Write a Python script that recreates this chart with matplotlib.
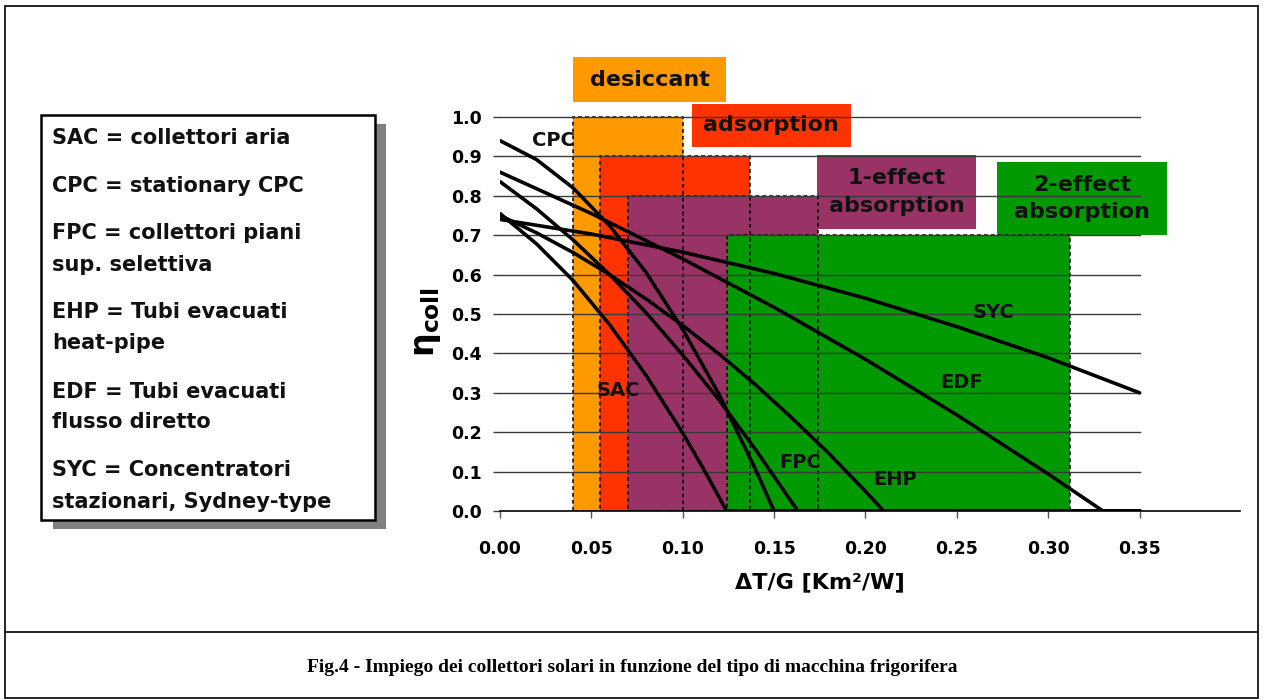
import matplotlib
matplotlib.use("Agg")
import matplotlib.pyplot as plt
from matplotlib.patches import Rectangle

plt.rcParams['font.family'] = ['DejaVu Sans']
plt.rcParams['font.weight'] = 'bold'
plt.rcParams['mathtext.fontset'] = 'dejavusans'

# operating ranges of the chillers (x range, max efficiency)
BAR_NAMES = ["desiccant", "adsorption", "1-effect\nabsorption", "2-effect\nabsorption"]
BAR_X0 = [0.040, 0.055, 0.070, 0.124]
BAR_X1 = [0.100, 0.137, 0.174, 0.312]
BAR_TOP = [1.0, 0.9, 0.8, 0.7]
BAR_COLORS = ["#FF9900", "#FF3300", "#993366", "#009900"]

# collector efficiency curves
CPC_X = [0.0, 0.02, 0.04, 0.06, 0.08, 0.10, 0.12, 0.14, 0.15, 0.35]
CPC_Y = [0.94, 0.892, 0.820, 0.724, 0.605, 0.461, 0.295, 0.104, 0.0, 0.0]
SAC_X = [0.0, 0.02, 0.04, 0.06, 0.08, 0.10, 0.112, 0.124, 0.35]
SAC_Y = [0.755, 0.678, 0.585, 0.473, 0.344, 0.198, 0.102, 0.0, 0.0]
FPC_X = [0.0, 0.02, 0.04, 0.06, 0.08, 0.10, 0.12, 0.14, 0.163, 0.35]
FPC_Y = [0.836, 0.767, 0.688, 0.600, 0.503, 0.396, 0.281, 0.155, 0.0, 0.0]
EHP_X = [0.0, 0.02, 0.04, 0.06, 0.08, 0.10, 0.12, 0.14, 0.16, 0.18, 0.20, 0.21, 0.35]
EHP_Y = [0.75, 0.706, 0.656, 0.600, 0.538, 0.471, 0.398, 0.320, 0.235, 0.146, 0.050, 0.0, 0.0]
EDF_X = [0.0, 0.05, 0.10, 0.15, 0.20, 0.25, 0.30, 0.33, 0.35]
EDF_Y = [0.86, 0.755, 0.640, 0.517, 0.385, 0.244, 0.094, 0.0, 0.0]
SYC_X = [0.0, 0.05, 0.10, 0.15, 0.20, 0.25, 0.30, 0.35]
SYC_Y = [0.74, 0.703, 0.657, 0.603, 0.540, 0.468, 0.389, 0.30]

CURVE_LABELS = ["CPC", "SAC", "FPC", "EHP", "EDF", "SYC"]
LABEL_X = [0.029, 0.0646, 0.164, 0.216, 0.2525, 0.270]
LABEL_Y = [0.94, 0.305, 0.122, 0.079, 0.325, 0.505]

LEGEND_LINES = ["SAC = collettori aria", "CPC = stationary CPC",
                "FPC = collettori piani", "sup. selettiva",
                "EHP = Tubi evacuati", "heat-pipe",
                "EDF = Tubi evacuati", "flusso diretto",
                "SYC = Concentratori", "stazionari, Sydney-type"]
LEGEND_PY = [138, 186, 233, 265, 312, 343, 392, 422, 470, 502]

YTICKS = [0.0, 0.1, 0.2, 0.3, 0.4, 0.5, 0.6, 0.7, 0.8, 0.9, 1.0]
XTICKS = [0.0, 0.05, 0.10, 0.15, 0.20, 0.25, 0.30, 0.35]

W, H = 1264, 700
fig = plt.figure(figsize=(W / 100, H / 100), dpi=100)

# axes: x=0 at px 500, 0.405 at px 1240; y=0 at py 511, 394 px per unit
ax = fig.add_axes([500 / W, (H - 511) / H, 740 / W, 1.2 * 394 / H])
ax.set_xlim(0, 0.405)
ax.set_ylim(0, 1.2)

# chiller bars
for x0, x1, top, c in zip(BAR_X0, BAR_X1, BAR_TOP, BAR_COLORS):
    ax.add_patch(Rectangle((x0, 0), x1 - x0, top, facecolor=c, edgecolor="none", zorder=1))
for x0, x1, top in zip(BAR_X0, BAR_X1, BAR_TOP):
    ax.add_patch(Rectangle((x0, 0), x1 - x0, top, facecolor="none", edgecolor="black",
                           lw=1.1, ls=(0, (2.5, 2)), zorder=2))

# name boxes above bars
boxes = [(0.040, 1.038, 0.0838, 0.114), (0.105, 0.924, 0.087, 0.109),
         (0.1736, 0.7157, 0.0871, 0.188), (0.2722, 0.7005, 0.0931, 0.185)]
for (bx, by, bw, bh), name, c in zip(boxes, BAR_NAMES, BAR_COLORS):
    ax.add_patch(Rectangle((bx, by), bw, bh, facecolor=c, edgecolor="none", zorder=1.5,
                           clip_on=False))
    ax.text(bx + bw / 2, by + bh / 2, name, ha="center", va="center", fontsize=16,
            fontweight="bold", color="#111111", linespacing=1.45, zorder=6)

# grid lines
for yv in YTICKS[1:]:
    ax.plot([0, 0.35], [yv, yv], color="#3a3a3a", lw=1.0, zorder=3)

# efficiency curves
for xs, ys in [(CPC_X, CPC_Y), (SAC_X, SAC_Y), (FPC_X, FPC_Y),
               (EHP_X, EHP_Y), (EDF_X, EDF_Y), (SYC_X, SYC_Y)]:
    ax.plot(xs, ys, color="black", lw=2.6, zorder=4, solid_capstyle="round")

for lab, lx, ly in zip(CURVE_LABELS, LABEL_X, LABEL_Y):
    ax.text(lx, ly, lab, ha="center", va="center", fontsize=14, fontweight="bold",
            color="#111111", zorder=6)

for s in ["left", "top", "right"]:
    ax.spines[s].set_visible(False)
ax.spines["bottom"].set_linewidth(1.2)
ax.set_yticks(YTICKS)
ax.set_yticklabels([f"{v:.1f}" for v in YTICKS])
ax.set_xticks(XTICKS)
ax.set_xticklabels([f"{v:.2f}" for v in XTICKS])
ax.tick_params(axis="y", length=5, width=1, color="#3a3a3a", pad=8, labelsize=12.5)
ax.tick_params(axis="x", length=5, width=1, color="#555555", pad=16, labelsize=12.5)
for t in ax.get_xticklabels() + ax.get_yticklabels():
    t.set_fontweight("bold")

ax.text(0.175, -0.18, "ΔT/G [Km²/W]", ha="center", va="center", fontsize=16,
        fontweight="bold")
ax.text(-0.040, 0.48, r"$\mathbf{\eta}_{\mathbf{coll}}$", ha="center", va="center",
        fontsize=24, rotation=90)

# legend box with shadow (pixel layout)
def fx(px):
    return px / W

def fy(py):
    return (H - py) / H

fig.add_artist(Rectangle((fx(53), fy(529)), fx(375 - 42), 405 / H, transform=fig.transFigure,
                         facecolor="#808080", edgecolor="none", zorder=1))
fig.add_artist(Rectangle((fx(41), fy(520)), fx(375 - 41), 405 / H, transform=fig.transFigure,
                         facecolor="white", edgecolor="black", lw=1.8, zorder=2))
for line, py in zip(LEGEND_LINES, LEGEND_PY):
    fig.text(fx(52), fy(py), line, ha="left", va="center", fontsize=15, fontweight="bold",
             color="#111111", zorder=3)

# outer frame and caption
fig.add_artist(Rectangle((fx(5), fy(698)), fx(1258 - 5), 692 / H, transform=fig.transFigure,
                         facecolor="none", edgecolor="black", lw=1.2))
fig.add_artist(plt.Line2D([fx(5), fx(1258)], [fy(632), fy(632)], color="black", lw=1.2))
fig.text(fx(632), fy(667), "Fig.4 - Impiego dei collettori solari in funzione del tipo di macchina frigorifera",
         ha="center", va="center", fontsize=14, fontweight="bold", family="Liberation Serif")

fig.savefig("out.png", dpi=100)
